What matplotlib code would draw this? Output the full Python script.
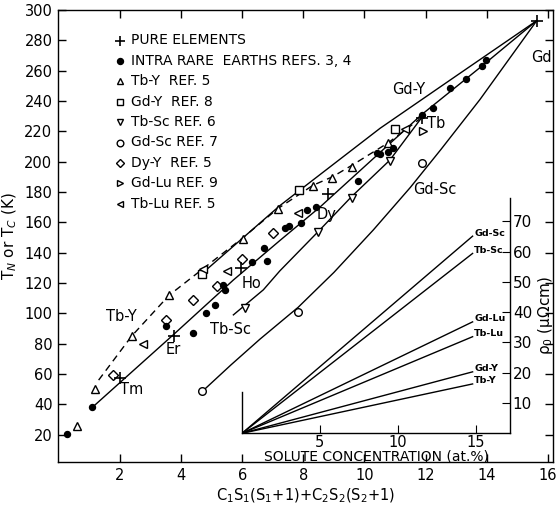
import matplotlib
matplotlib.use("Agg")
import matplotlib.pyplot as plt

plt.rcParams['font.family'] = ['DejaVu Sans']

# ---------------- data ----------------
pure_x = [1.99, 3.76, 5.96, 8.80, 11.87, 15.64]
pure_y = [57.7, 84.8, 130.2, 178.6, 229.0, 292.9]

intra_x = [0.28, 1.07, 3.50, 4.38, 4.83, 5.11, 5.36, 5.43, 6.31, 6.71, 6.80, 7.40, 7.54,
           7.91, 8.11, 8.41, 9.78, 10.40, 10.51, 10.78, 10.94, 11.87, 12.25, 12.80, 13.32,
           13.84, 13.98]
intra_y = [20.5, 38.1, 91.5, 87.1, 100.5, 105.8, 118.5, 115.6, 133.8, 143.0, 134.2, 156.3, 157.8,
           159.3, 168.1, 170.3, 187.5, 206.0, 205.0, 206.6, 208.8, 230.8, 235.2, 248.4, 254.5,
           263.1, 267.1]

tby_x = [0.58, 1.18, 2.38, 3.61, 6.01, 7.16, 8.32, 8.95, 9.58, 10.78]
tby_y = [25.5, 50.3, 84.8, 111.8, 148.9, 168.7, 184.0, 189.1, 196.7, 212.2]

gdy_x = [4.67, 7.87, 11.00]
gdy_y = [126.1, 181.1, 221.6]

tbsc_x = [6.09, 8.49, 9.58, 10.83]
tbsc_y = [103.5, 153.9, 176.3, 200.5]

gdsc_x = [4.69, 7.83, 11.87]
gdsc_y = [48.5, 100.6, 199.0]

dyy_x = [1.78, 3.49, 4.40, 5.16, 5.98, 7.01]
dyy_y = [59.1, 95.3, 108.5, 118.2, 135.7, 152.9]

gdlu_x = [11.93]
gdlu_y = [220.5]

tblu_x = [2.76, 4.72, 5.49, 7.83, 11.33]
tblu_y = [79.7, 129.0, 128.2, 166.4, 221.6]

# guide curves
tby_curve_x = [1.3, 2.38, 3.61, 4.72, 6.0, 7.16, 8.32, 8.95, 9.58, 10.78, 11.8]
tby_curve_y = [56, 85, 112, 129.5, 149.5, 169, 184.5, 190, 197.5, 212.5, 228]
gdy_line_x = [4.67, 7.23, 7.87, 10.51, 13.07, 15.64]
gdy_line_y = [126, 171, 181, 222, 257.5, 293]
intra_line_x = [1.07, 3.75, 5.71, 7.23, 8.54, 11.87, 13.84, 15.64]
intra_line_y = [37.6, 86, 122, 148, 170, 231, 263, 293]
tbsc_line_x = [5.71, 6.69, 7.23, 8.49, 9.58, 10.83, 11.87]
tbsc_line_y = [99, 115.5, 128, 154, 177, 201, 229]
gdsc_line_x = [4.69, 5.63, 6.58, 7.83, 9.0, 10.29, 11.5, 12.5, 13.78, 15.64]
gdsc_line_y = [48.5, 66, 83, 104, 127, 155, 183, 208, 241, 293]

# labels on the main plot
curve_labels = ["Gd-Y", "Tb", "Gd", "Gd-Sc", "Dy", "Ho", "Tb-Sc", "Tb-Y", "Er", "Tm"]
curve_label_x = [11.44, 12.36, 15.78, 12.31, 8.76, 6.31, 5.60, 2.05, 3.74, 2.38]
curve_label_y = [247.3, 224.9, 268.8, 181.9, 164.9, 119.9, 89.6, 97.9, 76.0, 50.1]

# inset: residual resistivity vs solute concentration
inset_names = ["Gd-Sc", "Tb-Sc", "Gd-Lu", "Tb-Lu", "Gd-Y", "Tb-Y"]
inset_conc_end = 14.8
inset_rho_end = [65.1, 59.4, 36.8, 31.9, 20.3, 16.3]

legend_labels = ["PURE ELEMENTS", "INTRA RARE  EARTHS REFS. 3, 4", "Tb-Y  REF. 5",
                 "Gd-Y  REF. 8", "Tb-Sc REF. 6", "Gd-Sc REF. 7", "Dy-Y  REF. 5",
                 "Gd-Lu REF. 9", "Tb-Lu REF. 5"]

# ---------------- figure ----------------
W, H = 557, 508
fig = plt.figure(figsize=(W / 100, H / 100), dpi=100)
ax = fig.add_axes([58 / W, (H - 462) / H, 495 / W, 452 / H])
ax.set_xlim(-0.03, 16.17)
ax.set_ylim(2, 300)

lw = 1.0
k = 'black'
ax.plot(tby_curve_x, tby_curve_y, color=k, lw=lw, ls=(0, (5, 3.5)))
ax.plot(gdy_line_x, gdy_line_y, color=k, lw=lw)
ax.plot(intra_line_x, intra_line_y, color=k, lw=lw)
ax.plot(tbsc_line_x, tbsc_line_y, color=k, lw=lw)
ax.plot(gdsc_line_x, gdsc_line_y, color=k, lw=lw)

ms_open = 5.5
mew = 1.0
open_kw = dict(ls='none', mfc='white', mec=k, mew=mew, ms=ms_open)
ax.plot(tby_x, tby_y, marker='^', **open_kw)
ax.plot(gdy_x, gdy_y, marker='s', **open_kw)
ax.plot(tbsc_x, tbsc_y, marker='v', **open_kw)
ax.plot(gdsc_x, gdsc_y, marker='o', **open_kw)
ax.plot(dyy_x, dyy_y, marker='D', mfc='white', mec=k, mew=mew, ms=4.8, ls='none')
ax.plot(gdlu_x, gdlu_y, marker='>', **open_kw)
ax.plot(tblu_x, tblu_y, marker='<', **open_kw)
ax.plot(intra_x, intra_y, marker='o', ls='none', color=k, ms=4.3)
ax.plot(pure_x, pure_y, marker='+', ls='none', color=k, ms=8, mew=1.2)

for t, x, y in zip(curve_labels, curve_label_x, curve_label_y):
    ax.text(x, y, t, fontsize=10.5, ha='center', va='center')

# legend (manual)
leg_markers = [dict(marker='+', ms=7, mew=1.2, color=k),
               dict(marker='o', ms=4.3, color=k),
               dict(marker='^', mfc='white', mec=k, mew=mew, ms=4.8),
               dict(marker='s', mfc='white', mec=k, mew=mew, ms=4.8),
               dict(marker='v', mfc='white', mec=k, mew=mew, ms=4.8),
               dict(marker='o', mfc='white', mec=k, mew=mew, ms=4.8),
               dict(marker='D', mfc='white', mec=k, mew=mew, ms=4.2),
               dict(marker='>', mfc='white', mec=k, mew=mew, ms=4.8),
               dict(marker='<', mfc='white', mec=k, mew=mew, ms=4.8)]
for i, (lab, mk) in enumerate(zip(legend_labels, leg_markers)):
    py = 40.5 + i * 20.4
    yf = (462 - py) / 452
    ax.plot([(120 - 58) / 495], [yf], transform=ax.transAxes, ls='none', **mk)
    ax.text((131 - 58) / 495, yf, lab, transform=ax.transAxes, fontsize=10,
            ha='left', va='center')

ax.set_xticks(range(2, 17, 2))
ax.set_yticks(range(20, 301, 20))
ax.tick_params(direction='in', length=6, width=1, top=True, right=True, labelsize=10.5,
               pad=4)
for s in ax.spines.values():
    s.set_linewidth(1.0)
ax.set_xlabel("C$_1$S$_1$(S$_1$+1)+C$_2$S$_2$(S$_2$+1)", fontsize=10.5, labelpad=3)
ax.set_ylabel("T$_N$ or T$_C$ (K)", fontsize=11, labelpad=4)

# ---------------- inset ----------------
ins = fig.add_axes([242 / W, (H - 433.3) / H, 268 / W, 235.3 / H])
ins.set_facecolor('none')
ins.set_xlim(0, 17.2)
ins.set_ylim(0, 77.7)
for name, r in zip(inset_names, inset_rho_end):
    ins.plot([0, inset_conc_end], [0, r], color=k, lw=lw)
    ins.text(inset_conc_end + 0.1, r + 1.0, name, fontsize=6.8, ha='left', va='center',
             fontweight='bold')
ins.spines['top'].set_visible(False)
ins.spines['left'].set_bounds(0, 13.7)
for s in ins.spines.values():
    s.set_linewidth(1.0)
ins.set_xticks([5, 10, 15])
ins.set_yticks(range(10, 71, 10))
ins.tick_params(axis='x', direction='in', length=6, labelsize=10.5, pad=1)
ins.tick_params(axis='y', direction='in', length=6, left=False, right=True,
                labelleft=False, labelright=True, labelsize=11, pad=2)
ins.set_xlabel("SOLUTE CONCENTRATION (at.%)", fontsize=10, labelpad=0)
ins.yaxis.set_label_position('right')
ins.set_ylabel("ρ$_0$ (μΩcm)", fontsize=11, labelpad=3)

fig.savefig("out.png", dpi=100)
